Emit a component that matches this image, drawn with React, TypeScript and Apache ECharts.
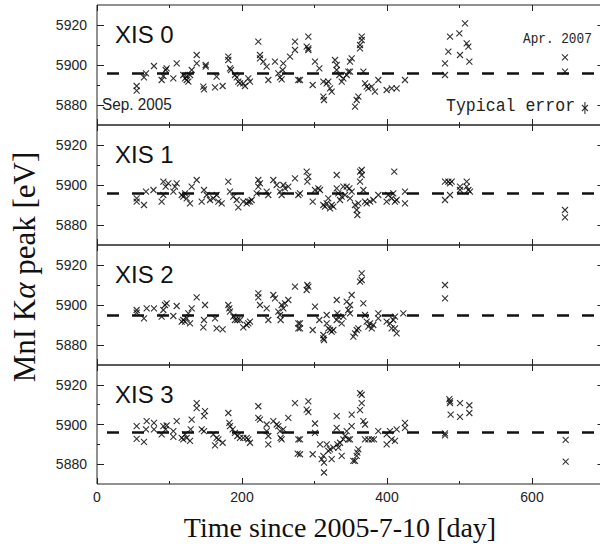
import React, { useEffect, useRef } from "react";
import * as echarts from "echarts";

const panelNames = ["XIS 0", "XIS 1", "XIS 2", "XIS 3"];

const xis0: number[][] = [
  [54.7, 5889.5], [54.7, 5887.2], [64.8, 5893.8], [67.6, 5895.8], [78.6, 5899.5], [89.2, 5892.5], [91.5, 5894.5], [94.7, 5897.5], [96.1, 5898.3],
  [105.3, 5893.3], [109.9, 5900.8], [119, 5895], [121.4, 5893.3], [123.7, 5894.2], [126, 5891.7], [123.7, 5892.5], [128.3, 5895], [130.6, 5897.5],
  [137.5, 5905], [137.5, 5900.8], [146.7, 5889.2], [147.6, 5887.8], [149.9, 5900], [149.9, 5899.2], [162.8, 5888.8], [165, 5894.2], [173.3, 5889.5],
  [181.1, 5904.2], [181.1, 5902.5], [183.4, 5898.3], [184.8, 5897.5], [190.3, 5895], [192.7, 5893.8], [194.9, 5891.7], [197.2, 5890.8], [201.8, 5890.8],
  [204.1, 5889.5], [208.7, 5893.3], [211, 5891.7], [222.5, 5911.7], [224.8, 5905], [224.8, 5903.3], [229.4, 5901.7], [234, 5899.2], [236.3, 5892.5],
  [245.5, 5901.7], [250.1, 5895.8], [252.4, 5893.8], [254.7, 5892.8], [256.1, 5897.5], [257, 5900.8], [266.2, 5904.2], [273.1, 5911.7], [273.1, 5907.5],
  [277.7, 5892.5], [280, 5892.5], [291.5, 5914.2], [291.5, 5908.3], [291.5, 5907.5], [289.2, 5909.2], [297.5, 5890], [300.7, 5901.7], [306.7, 5898.3],
  [312.2, 5891.7], [312.2, 5884.2], [313.1, 5882.5], [316.8, 5890.8], [319.1, 5891.7], [321.4, 5888.3], [323.7, 5886.7], [328.3, 5902.5], [330.6, 5900],
  [330.6, 5897.5], [334.3, 5895], [337.5, 5891.7], [339.8, 5893.3], [344.4, 5895], [346.7, 5896.7], [349, 5896.7], [351.3, 5903.3], [349, 5901.7],
  [355.9, 5879.2], [358.2, 5882.5], [360.5, 5884.2], [362.8, 5908.3], [365.1, 5912.5], [365.1, 5914.2], [362.8, 5910], [367.4, 5896.7], [369.7, 5890.8],
  [372, 5889.2], [374.3, 5888.3], [378.9, 5889.2], [383.4, 5886.7], [388, 5892.5], [399.5, 5887.5], [406.4, 5888.3], [413.3, 5888.3], [424.8, 5892.5],
  [480, 5900.8], [480, 5895], [484.6, 5906.7], [486.9, 5914.2], [500.7, 5905], [499.8, 5915.8], [507.6, 5920.8], [509.9, 5910.8], [512.2, 5909.2],
  [513.6, 5901.7], [645.5, 5903.8], [645.5, 5896.7],
];

const xis1: number[][] = [
  [54.7, 5893.3], [54.7, 5891.7], [64.8, 5890], [67.6, 5896.7], [77.9, 5897.5], [89.2, 5891.7], [91.5, 5895], [91.5, 5901.7], [94.7, 5899.2],
  [98.4, 5900.8], [105.3, 5896.7], [107.6, 5899.2], [109.9, 5900.8], [116.8, 5895], [119, 5894.2], [121.4, 5895.8], [123.7, 5893.3], [128.3, 5890.8],
  [130.6, 5899.2], [137.5, 5902.5], [144.4, 5891.7], [147.6, 5897.5], [151.3, 5895], [155.9, 5892.5], [160.5, 5893.3], [165, 5895], [167.4, 5891.7],
  [172, 5890.8], [181.1, 5901.7], [183.4, 5896.7], [188, 5894.2], [192.7, 5892.5], [194.9, 5888.8], [201.8, 5891.7], [206.4, 5890.8], [208.7, 5891.7],
  [211, 5891.7], [213.3, 5892.5], [220.2, 5895.8], [222.5, 5899.2], [222.5, 5902.5], [224.8, 5900.8], [234, 5896.7], [236.3, 5895], [243.2, 5902.5],
  [247.8, 5900], [252.4, 5896.7], [254.7, 5895], [257, 5900], [259.3, 5898.3], [263.9, 5899.2], [273.1, 5903.3], [277.7, 5895],
  [280, 5895.8], [289.2, 5906.7], [291.5, 5904.2], [290.1, 5901.7], [297.5, 5891.7], [300.7, 5897.5], [305.3, 5898.3], [307.6, 5897.5], [312.2, 5890],
  [314.5, 5889.2], [316.8, 5890.8], [319.1, 5893.3], [321.4, 5888.3], [323.7, 5890], [326, 5889.2], [330.6, 5905], [330.6, 5898.3], [332.9, 5895.8],
  [335.2, 5892.5], [337.5, 5894.2], [339.8, 5899.2], [342.1, 5895], [344.4, 5899.2], [348.1, 5898.3], [349, 5893.3], [351.3, 5896.7], [355.9, 5890],
  [358.2, 5887.5], [359.1, 5885], [360.5, 5890.8], [362.8, 5906.7], [362.8, 5901.7], [365.1, 5907.5], [365.1, 5905], [367.4, 5897.5], [369.7, 5891.7],
  [372, 5890.8], [376.6, 5891.7], [381.1, 5892.5], [388, 5895], [399.5, 5891.7], [401.8, 5895], [406.4, 5893.3], [408.7, 5895.8], [410, 5906.7],
  [411, 5891.7], [413.3, 5892.5], [424.8, 5896.7], [424.8, 5890.8], [480, 5892.5], [480, 5901.7], [484.6, 5901.7], [486.9, 5895], [486.9, 5900.8],
  [489.2, 5901.7], [500.7, 5899.2], [500.7, 5897.5], [509.9, 5901.7], [509.9, 5899.2], [512.2, 5897.5], [514.5, 5896.7], [645.5, 5887.5], [645.5, 5883.8],
];

const xis2: number[][] = [
  [54.7, 5897.5], [54.7, 5896.2], [64.8, 5893.3], [68.5, 5898.3], [78.6, 5898.3], [89.2, 5894.2], [91.5, 5897.5], [93.8, 5900], [96.1, 5900.8],
  [105.3, 5894.5], [109.9, 5899.5], [116.8, 5891.7], [119, 5892.5], [121.4, 5891.7], [123.7, 5893.3], [126, 5895.8], [128.3, 5890.8], [130.6, 5898.3],
  [137.5, 5903.8], [149, 5900], [147.6, 5892.5], [146.7, 5888.8], [162.8, 5893.3], [165, 5888.3], [173.3, 5887.8], [181.1, 5900], [182.5, 5898.3],
  [183.4, 5896.7], [188, 5894.2], [190.3, 5892.5], [193.6, 5892.5], [197.2, 5892.5], [201.8, 5888.8], [206.4, 5890], [208.7, 5890.8], [211, 5891.7],
  [222.5, 5905.8], [222.5, 5903.8], [224.8, 5900], [234, 5898.3], [236.3, 5892.5], [243.2, 5905], [245.5, 5903.3], [250.1, 5896.7], [252.4, 5895],
  [253.3, 5892.5], [254.7, 5900], [257, 5898.3], [259.3, 5900.8], [263.9, 5902.5], [273.1, 5909.2], [277.7, 5890.8], [277.7, 5888.3],
  [280, 5890.8], [280, 5888.3], [289.2, 5907.5], [291.5, 5909.2], [290.1, 5910], [297.5, 5887.5], [300.7, 5899.2], [306.7, 5892.5], [312.2, 5885],
  [312.2, 5883.3], [313.1, 5882.5], [316.8, 5895], [316.8, 5890.8], [319.1, 5888.3], [321.4, 5887.5], [323.7, 5886.7], [326, 5887.5], [330.6, 5902.5],
  [331.5, 5895.8], [330.6, 5892.5], [332.9, 5894.2], [337.5, 5890.8], [339.8, 5894.2], [344.4, 5901.7], [346.7, 5897.5], [349, 5895.8], [349, 5900],
  [351.3, 5905], [353.6, 5884.2], [355.9, 5885.8], [358.2, 5887.5], [360.5, 5888.3], [362.8, 5911.7], [365.1, 5912.5], [365.1, 5915.8], [367.4, 5900.8],
  [369.7, 5895], [372, 5891.7], [374.3, 5889.2], [376.6, 5890.8], [378.9, 5888.3], [381.1, 5890], [388, 5895.8], [388, 5893.3], [399.5, 5891.7],
  [404.1, 5890.8], [406.4, 5888.3], [408.7, 5892.5], [411, 5888.3], [411, 5894.2], [413.3, 5885.8], [422.5, 5895.8], [480, 5910], [480, 5903.3],
];

const xis3: number[][] = [
  [54.7, 5899.2], [54.7, 5892.8], [64.8, 5891.2], [67.6, 5897.5], [68.5, 5901.7], [78.6, 5900.8], [78.6, 5897.5], [89.2, 5895], [91.5, 5899.2],
  [94.7, 5897.5], [96.1, 5899.5], [105.3, 5896.7], [105.3, 5893.8], [109.9, 5901.7], [116.8, 5893.3], [119, 5892.5], [121.4, 5895], [123.7, 5893.3],
  [128.3, 5891.7], [129.2, 5897.5], [130.6, 5902.5], [137.5, 5910.8], [137.5, 5908.3], [144.4, 5897.5], [147.6, 5896.7], [147.6, 5904.2], [149, 5906.7],
  [160.5, 5895], [162.8, 5889.5], [165, 5893.3], [167.4, 5892.5], [173.3, 5890.8], [181.1, 5905.8], [182.5, 5900.8], [183.4, 5899.2], [187.1, 5897.5],
  [190.3, 5895.8], [193.6, 5894.2], [197.2, 5893.3], [201.8, 5893.3], [206.4, 5893.3], [208.7, 5892.5], [211, 5890.8], [222.5, 5909.2], [222.5, 5903.3],
  [224.8, 5902.5], [234, 5900], [234, 5896.7], [236.3, 5894.2], [236.3, 5890], [243.2, 5901.7], [247.8, 5900], [250.1, 5899.2], [252.4, 5896.7],
  [253.3, 5893.3], [254.7, 5892.5], [257, 5897.5], [263.9, 5903.3], [273.1, 5910.8], [277.7, 5892.5], [276.8, 5885.3],
  [280, 5892.5], [280, 5885], [291.5, 5911.7], [289.2, 5907.5], [291.5, 5906.2], [297.5, 5885], [300.7, 5900.5], [300.7, 5895.8], [307.6, 5890],
  [309.9, 5882.5], [312.2, 5884.2], [313.1, 5880.8], [313.1, 5875.8], [316.8, 5890], [319.1, 5886.7], [321.4, 5887.5], [323.7, 5882.5], [326, 5888.3],
  [330.6, 5904.2], [330.6, 5898.3], [331.5, 5890], [332.9, 5888.3], [335.2, 5890.8], [337.5, 5884.2], [339.8, 5892.5], [342.1, 5894.2], [344.4, 5896.7],
  [346.7, 5892.5], [349, 5892.5], [351.3, 5905], [351.3, 5899.2], [353.6, 5881.7], [355.9, 5881.7], [358.2, 5884.2], [359.1, 5885.8], [360.5, 5887.5],
  [362.8, 5915.8], [365.1, 5915], [365.1, 5910.8], [362.8, 5907.2], [367.4, 5901.7], [369.7, 5900], [369.7, 5892.5], [374.3, 5892.5], [378.9, 5892.5],
  [382.1, 5892.5], [388, 5896.7], [399.5, 5895], [399.5, 5890], [404.1, 5896.7], [406.4, 5892.5], [411, 5891.7], [413.3, 5897.5], [424.8, 5900.8],
  [424.8, 5898.3], [480, 5895.5], [480, 5894.5], [486, 5912.8], [486.9, 5911.7], [486.9, 5910.8], [487.8, 5905], [500.7, 5910.8], [500.7, 5903.8],
  [513.6, 5909.7], [513.6, 5905.8], [646.4, 5892.2], [646.4, 5881.3],
];

const panelData = [xis0, xis1, xis2, xis3];
const meanLevels = [5895.8, 5895.8, 5894.7, 5896.2];
const xTickLabels = [0, 200, 400, 600];
const yTickLabels = [5880, 5900, 5920];
const yMinorTicks = [5890, 5910];
// [day, peak, half error]
const typicalError: number[][] = [[673, 5878.5, 3]];

const GRID_TOPS = [5, 125, 245, 365];
const GRID_HEIGHTS = [120, 120, 120, 119];
const INK = "#222";
const SANS = "'Liberation Sans', Arial, Helvetica, sans-serif";
const SERIF = "'Liberation Serif', 'Times New Roman', serif";
const MONO = "'Liberation Mono', 'DejaVu Sans Mono', monospace";
const CROSS = "path://M0 0L10 10M10 0L0 10";

export default function App() {
  const ref = useRef<HTMLDivElement>(null);

  useEffect(() => {
    if (!ref.current) return;
    const chart = echarts.init(ref.current, undefined, { renderer: "svg" });

    const grids: any[] = [];
    const xAxes: any[] = [];
    const yAxes: any[] = [];
    const series: any[] = [];

    for (let i = 0; i < 4; i++) {
      grids.push({
        left: 97,
        top: GRID_TOPS[i],
        width: 507.5,
        height: GRID_HEIGHTS[i],
        show: true,
        borderColor: INK,
        borderWidth: 1,
        backgroundColor: "transparent",
        containLabel: false,
        outerBoundsMode: "none",
      });
      for (const pos of ["bottom", "top"]) {
        xAxes.push({
          gridIndex: i,
          type: "value",
          position: pos,
          min: 0,
          max: 700,
          interval: 200,
          axisLine: { show: false },
          splitLine: { show: false },
          axisTick: { show: true, inside: true, length: 6, lineStyle: { color: INK, width: 1 } },
          minorTick: { show: true, splitNumber: 2, length: 3, lineStyle: { color: INK, width: 1 } },
          minorSplitLine: { show: false },
          axisLabel: {
            show: pos === "bottom" && i === 3,
            margin: 6,
            fontSize: 14,
            fontFamily: SANS,
            color: INK,
            formatter: (v: number) => (xTickLabels.includes(v) ? String(v) : ""),
          },
        });
      }
      for (const pos of ["left", "right"]) {
        yAxes.push({
          gridIndex: i,
          type: "value",
          position: pos,
          min: 5870,
          max: 5930,
          axisLine: { show: false },
          splitLine: { show: false },
          axisTick: { show: true, inside: true, length: 7, customValues: yTickLabels, lineStyle: { color: INK, width: 1 } },
          axisLabel: {
            show: pos === "left",
            customValues: yTickLabels,
            margin: 10,
            fontSize: 14,
            fontFamily: SANS,
            color: INK,
            formatter: (v: number) => String(v),
          },
        });
        yAxes.push({
          gridIndex: i,
          type: "value",
          position: pos,
          min: 5870,
          max: 5930,
          axisLine: { show: false },
          splitLine: { show: false },
          axisTick: { show: true, inside: true, length: 3, customValues: yMinorTicks, lineStyle: { color: INK, width: 1 } },
          axisLabel: { show: false, customValues: yMinorTicks },
        });
      }
      series.push({
        type: "scatter",
        xAxisIndex: i * 2,
        yAxisIndex: i * 4,
        data: panelData[i],
        symbol: CROSS,
        symbolSize: 6,
        itemStyle: { color: "none", borderColor: "#000", borderWidth: 1.1 },
        silent: true,
        markLine: {
          silent: true,
          symbol: "none",
          label: { show: false },
          lineStyle: { type: [12, 13], dashOffset: 15, width: 2.5, color: "#111" },
          data: [{ yAxis: meanLevels[i] }],
        },
      });
    }

    series.push({
      type: "custom",
      xAxisIndex: 0,
      yAxisIndex: 0,
      data: typicalError,
      silent: true,
      renderItem: (_p: any, api: any) => {
        const a = api.coord([api.value(0), api.value(1) + api.value(2)]);
        const b = api.coord([api.value(0), api.value(1) - api.value(2)]);
        return {
          type: "line",
          shape: { x1: a[0], y1: a[1], x2: b[0], y2: b[1] },
          style: { stroke: INK, lineWidth: 1 },
        };
      },
    });
    series.push({
      type: "scatter",
      xAxisIndex: 0,
      yAxisIndex: 0,
      data: typicalError.map((d) => [d[0], d[1]]),
      symbol: CROSS,
      symbolSize: 6,
      itemStyle: { color: "none", borderColor: "#000", borderWidth: 1.1 },
      silent: true,
    });

    const graphic: any[] = [];
    panelNames.forEach((name, i) => {
      graphic.push({
        type: "text",
        x: 115,
        y: GRID_TOPS[i] + 29,
        style: { text: name, fontSize: 24, fontFamily: SANS, fill: "#111", align: "left", verticalAlign: "middle" },
      });
    });
    graphic.push({
      type: "text",
      x: 102,
      y: 103.5,
      scaleX: 0.9,
      style: { text: "Sep. 2005", fontSize: 17, fontFamily: SANS, fill: INK, align: "left", verticalAlign: "middle" },
    });
    graphic.push({
      type: "text",
      x: 523,
      y: 39,
      scaleX: 0.85,
      style: { text: "Apr. 2007", fontSize: 15, fontFamily: MONO, fill: INK, align: "left", verticalAlign: "middle" },
    });
    graphic.push({
      type: "text",
      x: 446,
      y: 106.5,
      scaleX: 0.92,
      style: { text: "Typical error", fontSize: 18, fontFamily: MONO, fill: INK, align: "left", verticalAlign: "middle" },
    });
    graphic.push({
      type: "text",
      x: 340,
      y: 527.5,
      style: { text: "Time since 2005-7-10 [day]", fontSize: 28, fontFamily: SERIF, fill: "#111", align: "center", verticalAlign: "middle" },
    });
    graphic.push({
      type: "text",
      x: 24,
      y: 267,
      rotation: Math.PI / 2,
      style: {
        text: "MnI K{a|α} peak [eV]",
        fontSize: 31,
        fontFamily: SERIF,
        fill: "#111",
        align: "center",
        verticalAlign: "middle",
        rich: { a: { fontSize: 31, fontFamily: SERIF, fontStyle: "italic", fill: "#111" } },
      },
    });

    chart.setOption({
      animation: false,
      backgroundColor: "#fff",
      grid: grids,
      xAxis: xAxes,
      yAxis: yAxes,
      series,
      graphic,
    });

    return () => chart.dispose();
  }, []);

  return <div ref={ref} style={{ position: "fixed", left: 0, top: 0, width: 600, height: 546 }} />;
}
